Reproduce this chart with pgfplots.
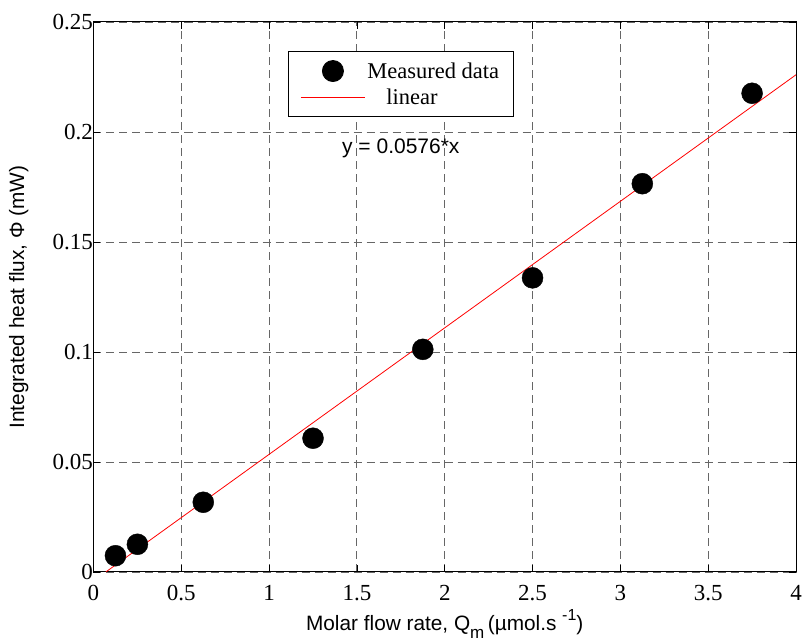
\documentclass[border=0pt]{standalone}
\usepackage{fontspec}
\setmainfont{Liberation Serif}
\newfontfamily\arial{Liberation Sans}
\usepackage{pgfplots}
\pgfplotsset{compat=1.18}
\pgfplotsset{
	dotlegend/.style={legend image code/.code={\draw[##1,mark repeat=2,mark phase=2] plot coordinates {(0pt,0pt) (32pt,0pt) (64pt,0pt)};}},
	linelegend/.style={legend image code/.code={\draw[##1] (0pt,0pt) -- (64pt,0pt);}},
}

\begin{document}
\begin{tikzpicture}
\begin{axis}[
	scale only axis,
	width=702.5pt, height=550pt,
	xmin=0, xmax=4,
	ymin=0, ymax=0.25,
	xtick={0,0.5,1,1.5,2,2.5,3,3.5,4},
	xticklabels={0,0.5,1,1.5,2,2.5,3,3.5,4},
	ytick={0,0.05,0.1,0.15,0.2,0.25},
	yticklabels={0,0.05,0.1,0.15,0.2,0.25},
	tick label style={font=\fontsize{23}{25}\selectfont},
	xticklabel style={yshift=-10pt},
	yticklabel style={xshift=3pt},
	tick align=inside, xtick pos=both, ytick pos=both,
	major tick length=7pt,
	axis line style={line width=1pt},
	every tick/.style={black, line width=0.8pt},
	grid=major,
	major grid style={black!60, line width=0.9pt, dash pattern=on 8pt off 5pt},
	xlabel={\arial Molar flow rate, Q\raisebox{-0.4em}{\fontsize{17}{17}\selectfont m}\,(µmol.s \raisebox{0.45em}{\fontsize{16}{16}\selectfont -1})},
	ylabel={\arial Integrated heat flux, Φ (mW)},
	label style={font=\fontsize{20.8}{24}\selectfont},
	xlabel style={at={(axis description cs:0.5,-0.1055)}, anchor=base},
	ylabel style={at={(axis description cs:-0.0875,0.5)}, anchor=south},
	legend style={at={(axis cs:1.108,0.2368)}, anchor=north west,
		draw=black, line width=0.9pt,
		font=\fontsize{22.5}{25}\selectfont,
		inner xsep=12pt, inner ysep=9pt,
		row sep=5pt,
		cells={anchor=west}},
]

\addplot[only marks, mark=*, mark size=10.5pt, black, dotlegend]
coordinates {
	(0.125, 0.0074)
	(0.25, 0.0126)
	(0.625, 0.0317)
	(1.25, 0.0608)
	(1.875, 0.1012)
	(2.5, 0.1337)
	(3.125, 0.1765)
	(3.75, 0.2176)
};
\addlegendentry{Measured data}

\addplot[red, line width=0.8pt, linelegend]
coordinates {
	(0.07, 0)
	(4, 0.226)
};
\addlegendentry{\hspace{19pt}linear}

\node[font=\arial\fontsize{21}{24}\selectfont] at (axis cs:1.75,0.1927) {y = 0.0576*x};

\coordinate (sw) at (rel axis cs:0,0);
\coordinate (ne) at (rel axis cs:1,1);
\end{axis}
\pgfresetboundingbox
\path ([xshift=-93.5pt,yshift=-69pt]sw) rectangle ([xshift=9pt,yshift=22pt]ne);
\end{tikzpicture}
\end{document}
